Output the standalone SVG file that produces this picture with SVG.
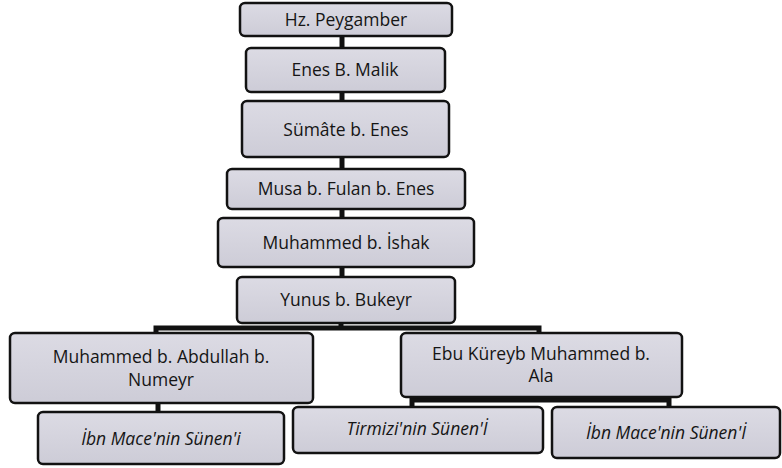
<svg xmlns="http://www.w3.org/2000/svg" width="782" height="468" viewBox="0 0 782 468">
<defs>
<linearGradient id="g" x1="0" y1="0" x2="0" y2="1">
<stop offset="0" stop-color="#dcdbe4"/>
<stop offset="1" stop-color="#cdccd7"/>
</linearGradient>
<style>
.b{fill:url(#g);stroke:#121212;stroke-width:2.5}
.t{font-family:"Open Sans","Noto Sans",sans-serif;font-size:17.5px;fill:#151515;text-anchor:middle}
.i{font-style:italic}
.c{stroke:#111;stroke-width:5;fill:none}
</style>
</defs>
<rect width="782" height="468" fill="#fff"/>
<g id="connectors">
<line class="c" x1="342" y1="36" x2="342" y2="48"/>
<line class="c" x1="342" y1="92" x2="342" y2="101"/>
<line class="c" x1="342" y1="157" x2="342" y2="169"/>
<line class="c" x1="342" y1="209" x2="342" y2="218"/>
<line class="c" x1="342" y1="267" x2="342" y2="277"/>
<line class="c" x1="341" y1="323" x2="341" y2="328"/>
<polyline class="c" points="156,334 156,328 539,328 539,334"/>
<line class="c" x1="158" y1="403" x2="158" y2="412"/>
<polyline class="c" points="412,408 412,400 669,400 669,408"/>
</g>
<g id="n1"><rect class="b" x="240" y="3" width="212" height="33" rx="5"/><text class="t" x="346" y="26">Hz. Peygamber</text></g>
<g id="n2"><rect class="b" x="246" y="48" width="199" height="44" rx="5"/><text class="t" x="345" y="76">Enes B. Malik</text></g>
<g id="n3"><rect class="b" x="242" y="101" width="207" height="56" rx="5"/><text class="t" x="346" y="136">Sümâte b. Enes</text></g>
<g id="n4"><rect class="b" x="227" y="169" width="238" height="40" rx="5"/><text class="t" x="346" y="195">Musa b. Fulan b. Enes</text></g>
<g id="n5"><rect class="b" x="218" y="218" width="256" height="49" rx="5"/><text class="t" x="346" y="249">Muhammed b. İshak</text></g>
<g id="n6"><rect class="b" x="237" y="277" width="218" height="46" rx="5"/><text class="t" x="346" y="306">Yunus b. Bukeyr</text></g>
<g id="n7"><rect class="b" x="10" y="333" width="303" height="70" rx="5"/><text class="t" x="161" y="363">Muhammed b. Abdullah b.</text><text class="t" x="161" y="386">Numeyr</text></g>
<g id="n8"><rect class="b" x="401" y="333" width="281" height="64" rx="5"/><text class="t" x="541" y="360">Ebu Küreyb Muhammed b.</text><text class="t" x="541" y="382">Ala</text></g>
<g id="n9"><rect class="b" x="38" y="412" width="246" height="52" rx="5"/><text class="t i" x="161" y="445">İbn Mace'nin Sünen'i</text></g>
<g id="n10"><rect class="b" x="293" y="407" width="250" height="46" rx="5"/><text class="t i" x="417" y="435">Tirmizi'nin Sünen'İ</text></g>
<g id="n11"><rect class="b" x="552" y="407" width="228" height="51" rx="5"/><text class="t i" x="666" y="439">İbn Mace'nin Sünen'İ</text></g>
</svg>
